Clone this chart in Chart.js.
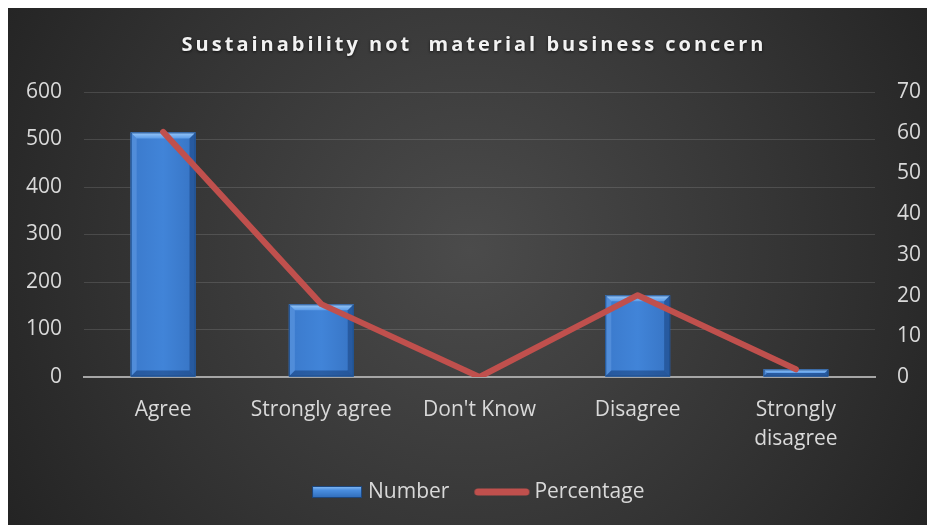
<!DOCTYPE html>
<html>
<head>
<meta charset="utf-8">
<script src="https://cdn.jsdelivr.net/npm/chart.js@4"></script>
<style>
  html, body { margin: 0; padding: 0; background: #ffffff; overflow: hidden; }
  #wrap { width: 927px; height: 525px; position: relative; }
</style>
</head>
<body>
<div id="wrap"><canvas id="chart"></canvas></div>
<script>
// ---- data ----
const chartTitle = 'Sustainability not  material business concern';
const categories = ['Agree', 'Strongly agree', "Don't Know", 'Disagree', ['Strongly', 'disagree']];
const numberValues = [515, 153, 0, 172, 16];
const percentageValues = [60.2, 17.9, 0, 20.1, 1.9];
const seriesNames = ['Number', 'Percentage'];
const leftAxisRange = [0, 600, 100];
const rightAxisRange = [0, 70, 10];

// ---- styling ----
const FONT = '"Open Sans", "Liberation Sans", sans-serif';
const TEXT = '#d9d9d9';
const LINE_RED = '#c0504d';
const BAR_BLUE = '#3d7ed2';

// small canvases used as legend markers
function makeMarker(draw) {
  const c = document.createElement('canvas');
  c.width = 60; c.height = 14;
  draw(c.getContext('2d'));
  return c;
}
const barMarker = makeMarker(ctx => {
  const g = ctx.createLinearGradient(0, 1, 0, 13);
  g.addColorStop(0, '#8cc0f7');
  g.addColorStop(0.35, '#4a8ee0');
  g.addColorStop(1, '#2f6bb8');
  ctx.fillStyle = g;
  ctx.fillRect(8, 1, 50, 12);
  ctx.strokeStyle = '#1d467c';
  ctx.lineWidth = 1;
  ctx.strokeRect(8.5, 1.5, 49, 11);
});
const lineMarker = makeMarker(ctx => {
  ctx.strokeStyle = LINE_RED;
  ctx.lineWidth = 7;
  ctx.lineCap = 'round';
  ctx.beginPath();
  ctx.moveTo(7.5, 7);
  ctx.lineTo(55.5, 7);
  ctx.stroke();
});

// dark radial backdrop inside a thin white margin, plus the heading
const backdrop = {
  id: 'backdrop',
  afterLayout(chart) {
    // nudge the legend row slightly right of centre
    if (chart.legend) {
      chart.legend.left += 10;
      chart.legend.right += 10;
    }
  },
  beforeDraw(chart) {
    const { ctx, width, height } = chart;
    ctx.save();
    ctx.fillStyle = '#ffffff';
    ctx.fillRect(0, 0, width, height);
    const g = ctx.createRadialGradient(470, 250, 0, 470, 250, 560);
    g.addColorStop(0, '#4b4b4b');
    g.addColorStop(0.55, '#353535');
    g.addColorStop(1, '#222222');
    ctx.fillStyle = g;
    ctx.fillRect(8, 8, width - 8, height - 8);
    ctx.restore();
  },
  afterDraw(chart) {
    const { ctx } = chart;
    ctx.save();
    ctx.font = 'bold 20px ' + FONT;
    ctx.letterSpacing = '3px';
    ctx.fillStyle = '#f2f2f2';
    ctx.textAlign = 'center';
    ctx.textBaseline = 'middle';
    ctx.shadowColor = 'rgba(0,0,0,0.7)';
    ctx.shadowBlur = 3;
    ctx.shadowOffsetY = 1;
    ctx.fillText(chartTitle, 474, 45);
    ctx.restore();
  }
};

// bevelled look for the bars
const bevel = {
  id: 'bevel',
  afterDatasetDraw(chart, args) {
    if (args.meta.type !== 'bar') return;
    const { ctx } = chart;
    ctx.save();
    args.meta.data.forEach(el => {
      const { x, y, base, width } = el.getProps(['x', 'y', 'base', 'width'], true);
      const l = x - width / 2, r = x + width / 2, t = y, b = base;
      const h = b - t;
      if (h <= 0) return;
      const e = Math.min(6, h / 2);
      // body shading
      const body = ctx.createLinearGradient(l, 0, r, 0);
      body.addColorStop(0, '#3b7acc');
      body.addColorStop(0.5, '#4184d8');
      body.addColorStop(1, '#3774c4');
      ctx.fillStyle = body;
      ctx.fillRect(l, t, width, h);
      // top facet
      const tg = ctx.createLinearGradient(0, t, 0, t + e);
      tg.addColorStop(0, '#9ccaf8');
      tg.addColorStop(1, '#5c9ce8');
      ctx.fillStyle = tg;
      ctx.beginPath();
      ctx.moveTo(l, t); ctx.lineTo(r, t); ctx.lineTo(r - e, t + e); ctx.lineTo(l + e, t + e);
      ctx.closePath(); ctx.fill();
      // left facet
      ctx.fillStyle = 'rgba(120,175,240,0.35)';
      ctx.beginPath();
      ctx.moveTo(l, t); ctx.lineTo(l + e, t + e); ctx.lineTo(l + e, b - e); ctx.lineTo(l, b);
      ctx.closePath(); ctx.fill();
      // right facet
      ctx.fillStyle = 'rgba(10,40,90,0.35)';
      ctx.beginPath();
      ctx.moveTo(r, t); ctx.lineTo(r - e, t + e); ctx.lineTo(r - e, b - e); ctx.lineTo(r, b);
      ctx.closePath(); ctx.fill();
      // bottom facet
      ctx.fillStyle = 'rgba(10,40,90,0.4)';
      ctx.beginPath();
      ctx.moveTo(l, b); ctx.lineTo(l + e, b - e); ctx.lineTo(r - e, b - e); ctx.lineTo(r, b);
      ctx.closePath(); ctx.fill();
      // outline
      ctx.strokeStyle = '#1f4f8c';
      ctx.lineWidth = 1;
      ctx.strokeRect(l + 0.5, t + 0.5, width - 1, h - 1);
    });
    ctx.restore();
  }
};

new Chart(document.getElementById('chart'), {
  data: {
    labels: categories,
    datasets: [
      {
        type: 'bar',
        label: seriesNames[0],
        data: numberValues,
        yAxisID: 'y',
        backgroundColor: BAR_BLUE,
        borderWidth: 0,
        barPercentage: 0.41,
        categoryPercentage: 1.0,
        order: 2
      },
      {
        type: 'line',
        label: seriesNames[1],
        data: percentageValues,
        yAxisID: 'y1',
        borderColor: LINE_RED,
        borderWidth: 6,
        borderCapStyle: 'round',
        borderJoinStyle: 'round',
        pointRadius: 0,
        tension: 0,
        fill: false,
        order: 1
      }
    ]
  },
  options: {
    responsive: true,
    maintainAspectRatio: false,
    animation: false,
    devicePixelRatio: 1,
    layout: { padding: { top: 92, left: 8, right: 0, bottom: 12.5 } },
    plugins: {
      title: { display: false },
      tooltip: { enabled: false },
      legend: {
        position: 'bottom',
        labels: {
          usePointStyle: true,
          pointStyleWidth: 47,
          padding: 27.5,
          color: TEXT,
          font: { family: FONT, size: 21 },
          generateLabels: () => [
            { text: seriesNames[0], pointStyle: barMarker, datasetIndex: 0, fontColor: TEXT, lineWidth: 0, hidden: false },
            { text: seriesNames[1], pointStyle: lineMarker, datasetIndex: 1, fontColor: TEXT, lineWidth: 0, hidden: false }
          ]
        }
      }
    },
    scales: {
      x: {
        grid: { display: false },
        border: { display: true, color: '#a6a6a6', width: 2 },
        ticks: {
          color: TEXT,
          padding: 11,
          maxRotation: 0,
          autoSkip: false,
          font: { family: FONT, size: 21, lineHeight: 1.38 }
        },
        afterFit(scale) { scale.height = 77; }
      },
      y: {
        position: 'left',
        min: leftAxisRange[0], max: leftAxisRange[1],
        ticks: { stepSize: leftAxisRange[2], color: TEXT, padding: 22, font: { family: FONT, size: 21 } },
        grid: { color: 'rgba(255,255,255,0.13)', lineWidth: 1, drawTicks: false },
        border: { display: false },
        afterFit(scale) { scale.width = 76; }
      },
      y1: {
        position: 'right',
        min: rightAxisRange[0], max: rightAxisRange[1],
        ticks: { stepSize: rightAxisRange[2], color: TEXT, padding: 22, font: { family: FONT, size: 21 } },
        grid: { display: false, drawTicks: false },
        border: { display: false },
        afterFit(scale) { scale.width = 52; }
      }
    }
  },
  plugins: [backdrop, bevel]
});
</script>
</body>
</html>
